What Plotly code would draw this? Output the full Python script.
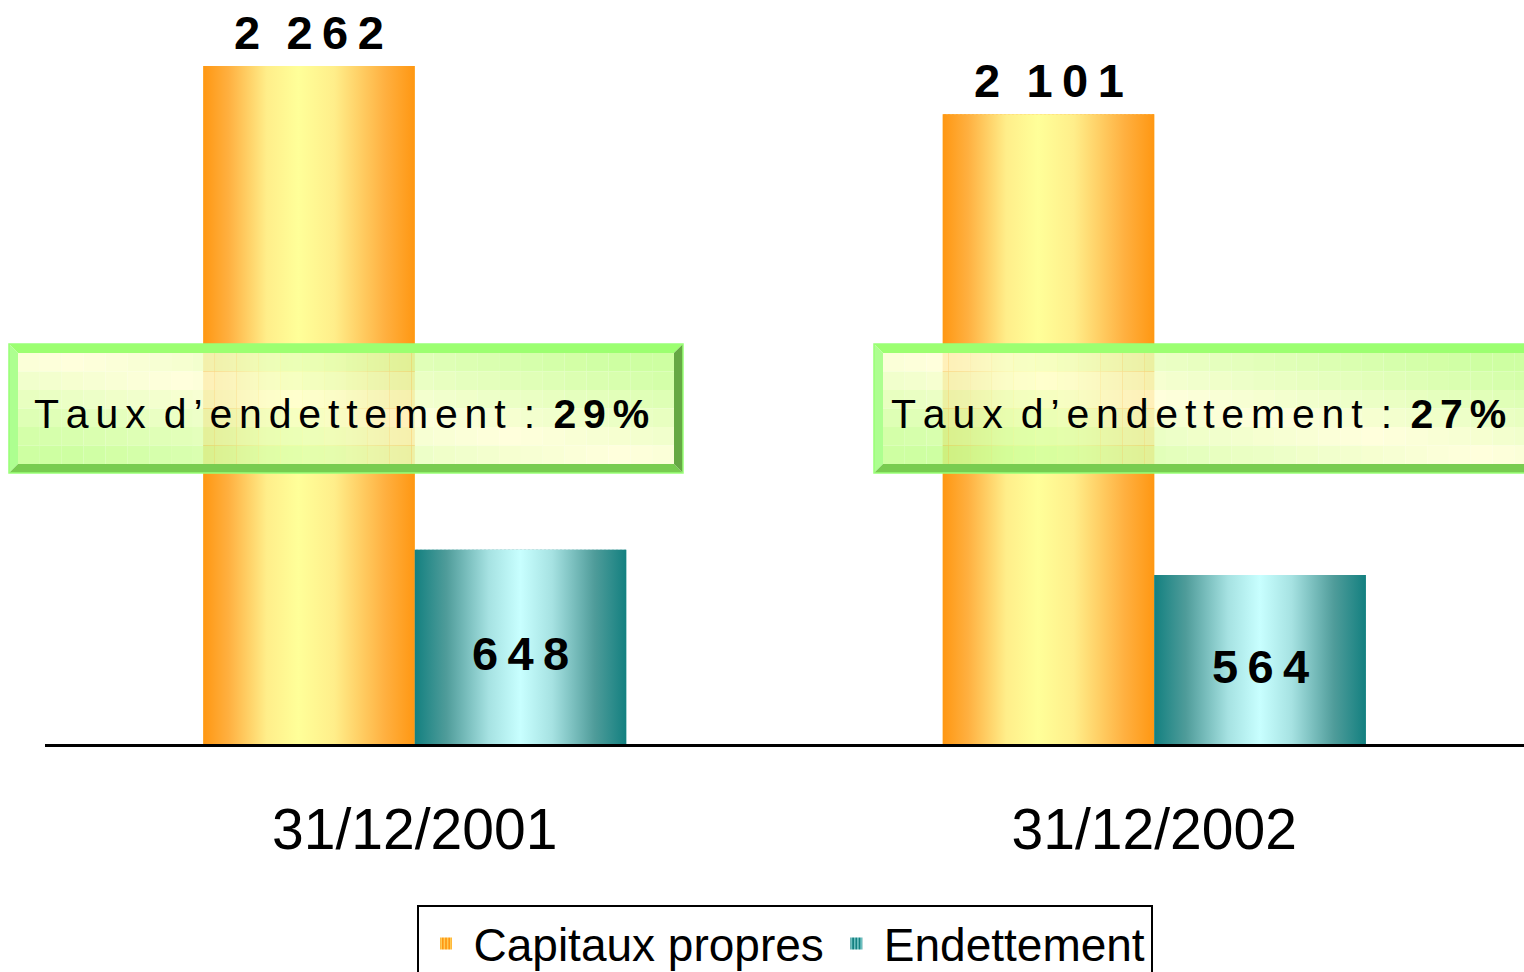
import plotly.graph_objects as go

# ---- data -------------------------------------------------------------
dates = ["31/12/2001", "31/12/2002"]
capitaux_propres = [2262, 2101]
endettement = [648, 564]
taux_endettement = [29, 27]          # debt ratio, %
series_names = ["Capitaux propres", "Endettement"]

# ---- styling ------------------------------------------------------------
FONT = "Liberation Sans, Arial, sans-serif"
THIN = "\u2009"      # tracking for the value labels
HAIR = "\u200A"
SIXTH = "\u2006"     # tracking for the banner text

ORANGE_SCALE = [[0.0, "#FF9712"], [0.12, "#FFB040"], [0.3, "#FFEE8A"],
                [0.45, "#FFFF99"], [0.62, "#FFEE8A"], [0.86, "#FFB040"],
                [1.0, "#FF9712"]]
TEAL_SCALE = [[0.0, "#138080"], [0.15, "#4F9C9A"], [0.35, "#A6E2E2"],
              [0.5, "#C8FFFF"], [0.65, "#A6E2E2"], [0.85, "#4F9C9A"],
              [1.0, "#138080"]]
SCALES = [ORANGE_SCALE, TEAL_SCALE]
BASE_COLORS = ["#FF9712", "#138080"]
STRIPE_COLORS = ["#FFFF99", "#C8FFFF"]

W, H = 1524, 972
M_L, M_R, M_T, M_B = 45, 0, 0, 228
PLOT_W = W - M_L - M_R
PLOT_H = H - M_T - M_B
BARGAP = 0.428
GROUP_W = 1 - BARGAP
BAR_W = GROUP_W / 2
Y_MAX = 2482


def spaced(s, sep):
    """Spread characters apart (tracking)."""
    return sep.join(s)


def px_x(p):
    return (p - M_L) / PLOT_W


def px_y(p):
    return (M_T + PLOT_H - p) / PLOT_H


positions = list(range(len(dates)))
series = [capitaux_propres, endettement]

fig = go.Figure()

# bars (carry the legend entries; gradient overlay drawn on top)
for s, (name, vals) in enumerate(zip(series_names, series)):
    fig.add_trace(go.Bar(
        x=positions, y=vals, name=name,
        marker=dict(color=BASE_COLORS[s], line=dict(width=0),
                    pattern=dict(shape="|", fgcolor=STRIPE_COLORS[s],
                                 bgcolor=BASE_COLORS[s], size=4,
                                 solidity=0.5, fillmode="overlay")),
        hoverinfo="skip",
    ))

# horizontal gradient fill for each bar, built from the same values
for s, vals in enumerate(series):
    for i, v in zip(positions, vals):
        left = i - GROUP_W / 2 + s * BAR_W
        right = left + BAR_W
        fig.add_trace(go.Scatter(
            x=[left, right, right, left, left], y=[0, 0, v, v, 0],
            mode="none", fill="toself",
            fillgradient=dict(type="horizontal", colorscale=SCALES[s]),
            showlegend=False, hoverinfo="skip",
        ))

annotations = []
# value labels
for i, v in zip(positions, capitaux_propres):
    groups = f"{v:,}".split(",")
    txt = (" " + THIN + HAIR).join(spaced(g, THIN) for g in groups)
    annotations.append(dict(
        x=i - GROUP_W / 2 + BAR_W / 2, y=v, xref="x", yref="y",
        text="<b>" + txt + "</b>",
        showarrow=False, yanchor="bottom", yshift=5,
        font=dict(family=FONT, size=47, color="black")))
for i, v in zip(positions, endettement):
    annotations.append(dict(
        x=i - GROUP_W / 2 + 1.5 * BAR_W, y=v / 2, xref="x", yref="y",
        text="<b>" + spaced(str(v), THIN) + "</b>",
        showarrow=False, yanchor="middle", yshift=-7,
        font=dict(family=FONT, size=47, color="black")))

# debt-ratio banners: (left edge, right edge, text inset) in pixels
shapes = []
BOX_TOP, BOX_BOT, BEV = 344, 473, 9
banners = [(9, 683, 23), (874, 1545, 15)]
YELLOW = (255, 255, 214)
GREEN = (198, 255, 146)
COLS, ROWS = 30, 6


def mix(a, b, t):
    return tuple(round(a[k] + (b[k] - a[k]) * t) for k in range(3))


for (bx0, bx1, inset), rate in zip(banners, taux_endettement):
    ix0, ix1 = bx0 + BEV, bx1 - BEV
    iy0, iy1 = BOX_TOP + BEV, BOX_BOT - BEV
    # gradient interior, semi-transparent
    for c in range(COLS):
        for r in range(ROWS):
            u = (c + 0.5) / COLS
            w = (r + 0.5) / ROWS
            t = min(1.0, abs(u - w) * 1.2)
            col = mix(YELLOW, GREEN, t)
            shapes.append(dict(
                type="rect", xref="paper", yref="paper",
                x0=px_x(ix0 + (ix1 - ix0) * c / COLS),
                x1=px_x(ix0 + (ix1 - ix0) * (c + 1) / COLS),
                y0=px_y(iy0 + (iy1 - iy0) * r / ROWS),
                y1=px_y(iy0 + (iy1 - iy0) * (r + 1) / ROWS),
                fillcolor="rgba(%d,%d,%d,0.85)" % col,
                line=dict(width=0), layer="above"))

    def poly(pts, color):
        path = "M " + " L ".join(f"{px_x(a):.5f},{px_y(b):.5f}" for a, b in pts) + " Z"
        shapes.append(dict(type="path", xref="paper", yref="paper", path=path,
                           fillcolor=color, line=dict(width=0), layer="above"))

    # bevelled frame
    poly([(bx0, BOX_TOP), (bx1, BOX_TOP), (ix1, iy0), (ix0, iy0)], "#9CFF70")
    poly([(bx0, BOX_TOP), (ix0, iy0), (ix0, iy1), (bx0, BOX_BOT)], "#ADFF90")
    poly([(bx0, BOX_BOT), (ix0, iy1), (ix1, iy1), (bx1, BOX_BOT)], "#78CC50")
    poly([(bx1, BOX_TOP), (bx1, BOX_BOT), (ix1, iy1), (ix1, iy0)], "#66A844")
    shapes.append(dict(type="rect", xref="paper", yref="paper",
                       x0=px_x(bx0), x1=px_x(bx1), y0=px_y(BOX_TOP), y1=px_y(BOX_BOT),
                       line=dict(color="#99FF77", width=1.5), layer="above"))

    gap = " " + SIXTH
    label = (spaced("Taux", SIXTH) + gap + spaced("d’endettement", SIXTH) + gap + ":" +
             gap + "<b>" + spaced(f"{rate}%", SIXTH) + "</b>")
    annotations.append(dict(
        x=px_x(bx0 + inset), y=px_y((BOX_TOP + BOX_BOT) / 2), xref="paper", yref="paper",
        text=label, showarrow=False, xanchor="left", yanchor="middle", yshift=-5,
        font=dict(family=FONT, size=41, color="black")))

fig.update_layout(
    width=W, height=H,
    margin=dict(l=M_L, r=M_R, t=M_T, b=M_B, autoexpand=False),
    paper_bgcolor="white", plot_bgcolor="white",
    barmode="group", bargap=BARGAP, bargroupgap=0,
    xaxis=dict(range=[-0.5, 1.5], tickvals=positions, ticktext=dates,
               showline=True, linecolor="black", linewidth=3,
               ticks="", showgrid=False, zeroline=False, fixedrange=True,
               automargin=False,
               tickfont=dict(family=FONT, size=57, color="black"),
               ticklabelstandoff=34),
    yaxis=dict(range=[0, Y_MAX], visible=False, fixedrange=True, automargin=False),
    legend=dict(orientation="h", x=0.5, xanchor="center",
                y=px_y(905), yanchor="top", itemwidth=45,
                bordercolor="black", borderwidth=2, bgcolor="white",
                font=dict(family=FONT, size=46, color="black")),
    shapes=shapes,
    annotations=annotations,
    showlegend=True,
)

fig.write_html("out.html", config={"displayModeBar": False})
